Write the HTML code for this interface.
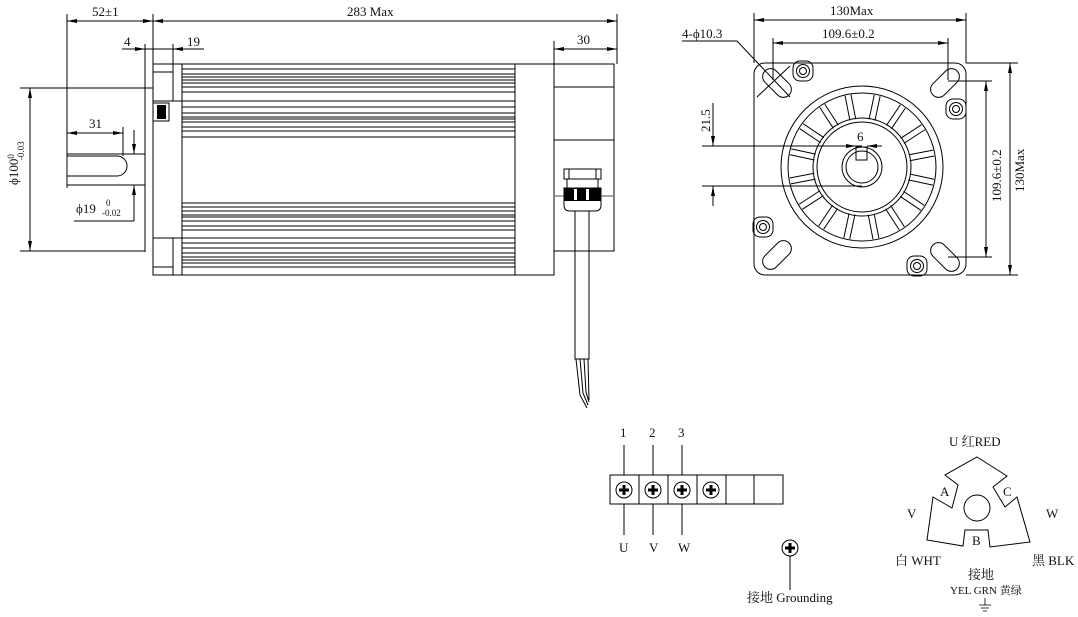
<!DOCTYPE html>
<html><head><meta charset="utf-8"><style>
html,body{margin:0;padding:0;background:#fff}
svg{display:block}
text{font-family:"Liberation Serif","Noto Serif CJK SC",serif;font-size:13px;fill:#111}
.l{stroke:#000;stroke-width:1;fill:none}
.t{stroke:#000;stroke-width:0.8;fill:none}
</style></head><body>
<svg width="1078" height="617" viewBox="0 0 1078 617" xmlns="http://www.w3.org/2000/svg">
<defs>
<marker id="a" viewBox="0 0 10 6" refX="10" refY="3" markerWidth="10" markerHeight="6" orient="auto-start-reverse"><path d="M0,1 L10,3 L0,5z" fill="#000"/></marker>
<g id="sp"><line x1="859" y1="119" x2="859" y2="94" class="l"/><line x1="865" y1="119" x2="865" y2="94" class="l"/></g>
<g id="boss"><rect x="-10" y="-10" width="20" height="20" rx="7" class="l"/><circle r="6.5" class="l"/><circle r="3.5" class="l"/></g>
<g id="slot"><rect x="-17" y="-8" width="34" height="16" rx="8" class="l"/></g>
<g id="scr"><circle r="8" class="l" stroke-width="1.5"/><path d="M-5,0H5M0,-5V5" stroke="#000" stroke-width="3"/></g>
</defs>

<!-- SIDE VIEW dims -->
<line x1="67" y1="14" x2="67" y2="188" class="l"/>
<line x1="153" y1="14" x2="153" y2="64" class="l"/>
<line x1="617" y1="14" x2="617" y2="64" class="l"/>
<line x1="67" y1="21" x2="153" y2="21" class="l" marker-start="url(#a)" marker-end="url(#a)"/>
<line x1="153" y1="21" x2="617" y2="21" class="l" marker-start="url(#a)" marker-end="url(#a)"/>
<text x="92" y="16">52±1</text>
<text x="347" y="16">283 Max</text>
<line x1="122" y1="49" x2="204" y2="49" class="l"/>
<line x1="132" y1="49" x2="145" y2="49" class="l" marker-end="url(#a)"/>
<line x1="190" y1="49" x2="173" y2="49" class="l" marker-end="url(#a)"/>
<line x1="145" y1="44" x2="145" y2="252" class="l"/>
<line x1="173" y1="44" x2="173" y2="64" class="l"/>
<text x="124" y="46">4</text><text x="187" y="46">19</text>
<line x1="554" y1="41" x2="554" y2="64" class="l"/>
<line x1="554" y1="49" x2="617" y2="49" class="l" marker-start="url(#a)" marker-end="url(#a)"/>
<text x="577" y="44">30</text>

<!-- body -->
<rect x="153" y="64" width="401" height="211" class="l"/>
<line x1="153" y1="72" x2="173" y2="72" class="l"/>
<line x1="173" y1="64" x2="173" y2="101" class="l"/>
<line x1="173" y1="238" x2="173" y2="275" class="l"/>
<line x1="153" y1="267" x2="173" y2="267" class="l"/>
<line x1="153" y1="101" x2="515" y2="101" class="l"/>
<line x1="153" y1="238" x2="515" y2="238" class="l"/>
<line x1="182" y1="64" x2="182" y2="275" class="l"/>
<line x1="515" y1="64" x2="515" y2="275" class="l"/>
<rect x="153" y="103" width="16" height="18" fill="#fff" class="l"/>
<rect x="157" y="105" width="9" height="14" fill="#000"/>
<g class="l">
<path d="M182,69H515M182,74H515M182,77H515M182,80H515M182,83H515M182,87H515M182,92H515
M182,107H515M182,113H515M182,117H515M182,119H515M182,122H515M182,127H515M182,131H515M182,137H515
M182,203H515M182,207H515M182,211H515M182,215H515M182,217H515M182,221H515M182,226H515M182,230H515
M182,243H515M182,248H515M182,253H515M182,257H515M182,260H515M182,263H515M182,267H515"/>
</g>
<!-- connector box -->
<rect x="554" y="64" width="60" height="187" class="l"/>
<line x1="554" y1="87" x2="614" y2="87" class="l"/>
<line x1="554" y1="140" x2="614" y2="140" class="l"/>
<line x1="554" y1="196" x2="614" y2="196" stroke="#888" stroke-width="1.5"/>
<rect x="564" y="169" width="37" height="10" fill="#fff" class="l"/>
<line x1="569" y1="169" x2="569" y2="179" class="l"/><line x1="596" y1="169" x2="596" y2="179" class="l"/>
<rect x="567" y="179" width="31" height="9" fill="#fff" class="l"/>
<path d="M564,188H601V205Q601,211 595,211H570Q564,211 564,205Z" fill="#fff" class="l"/>
<rect x="564" y="188" width="37" height="13" fill="#000"/>
<rect x="574" y="189" width="3" height="11" fill="#fff"/><rect x="586" y="189" width="3" height="11" fill="#fff"/>
<rect x="575" y="211" width="14" height="148" fill="#fff" class="l"/>
<path d="M576,359L580,395L587,408M580,359L583,393L588,405M584,359L586,392L589,402M588,359L589,400" class="l"/>

<!-- shaft -->
<line x1="67" y1="154" x2="145" y2="154" class="l"/>
<line x1="67" y1="185" x2="145" y2="185" class="l"/>
<path d="M67,156H117A10,10 0 0 1 117,176H67" class="l"/>
<line x1="123" y1="127" x2="123" y2="156" class="l"/>
<line x1="67" y1="133" x2="123" y2="133" class="l" marker-start="url(#a)" marker-end="url(#a)"/>
<text x="89" y="128">31</text>
<line x1="134" y1="130" x2="134" y2="154" class="l" marker-end="url(#a)"/>
<line x1="134" y1="221" x2="134" y2="185" class="l" marker-end="url(#a)"/>
<line x1="74" y1="221" x2="134" y2="221" class="l"/>
<text x="76" y="213">ϕ19</text><text x="106" y="206" style="font-size:9px">0</text><text x="102" y="216" style="font-size:9px">-0.02</text>
<line x1="20" y1="88" x2="153" y2="88" class="l"/>
<line x1="20" y1="251" x2="145" y2="251" class="l"/>
<line x1="30" y1="88" x2="30" y2="251" class="l" marker-start="url(#a)" marker-end="url(#a)"/>
<text transform="translate(18,185) rotate(-90)">ϕ100<tspan style="font-size:9px" dy="-4">0</tspan><tspan style="font-size:9px" dx="-6" dy="10">-0.03</tspan></text>

<!-- FRONT VIEW -->
<rect x="754" y="63" width="212" height="212" rx="11" class="l"/>
<line x1="754" y1="13" x2="754" y2="63" class="l"/>
<line x1="966" y1="13" x2="966" y2="63" class="l"/>
<line x1="754" y1="20" x2="966" y2="20" class="l" marker-start="url(#a)" marker-end="url(#a)"/>
<text x="830" y="15">130Max</text>
<line x1="773" y1="38" x2="773" y2="80" class="l"/>
<line x1="948" y1="38" x2="948" y2="80" class="l"/>
<line x1="773" y1="43" x2="948" y2="43" class="l" marker-start="url(#a)" marker-end="url(#a)"/>
<text x="822" y="38">109.6±0.2</text>
<line x1="966" y1="63" x2="1018" y2="63" class="l"/>
<line x1="966" y1="275" x2="1018" y2="275" class="l"/>
<line x1="1010" y1="63" x2="1010" y2="275" class="l" marker-start="url(#a)" marker-end="url(#a)"/>
<text transform="translate(1024,192) rotate(-90)">130Max</text>
<line x1="948" y1="81" x2="992" y2="81" class="l"/>
<line x1="948" y1="257" x2="992" y2="257" class="l"/>
<line x1="986" y1="81" x2="986" y2="257" class="l" marker-start="url(#a)" marker-end="url(#a)"/>
<text transform="translate(1001,202) rotate(-90)">109.6±0.2</text>
<text x="682" y="38">4-ϕ10.3</text>
<path d="M682,41H737L790,97" class="l"/>
<line x1="757" y1="97" x2="790" y2="66" class="l"/>
<use href="#slot" transform="translate(777,83) rotate(45)"/>
<use href="#slot" transform="translate(945,83) rotate(-45)"/>
<use href="#slot" transform="translate(777,255) rotate(-45)"/>
<use href="#slot" transform="translate(945,257) rotate(45)"/>
<use href="#boss" transform="translate(803,71)"/>
<use href="#boss" transform="translate(956,109)"/>
<use href="#boss" transform="translate(763,227)"/>
<use href="#boss" transform="translate(917,266)"/>
<circle cx="862" cy="167" r="81" class="l"/>
<circle cx="862" cy="167" r="74" class="l"/>
<circle cx="862" cy="167" r="49" class="l"/>
<circle cx="862" cy="167" r="45" class="l"/>
<circle cx="862" cy="167" r="20" class="l"/>
<circle cx="862" cy="167" r="16" class="l"/>
<rect x="856" y="147" width="11" height="13" fill="#fff" class="l"/>
<g transform="translate(-0,0)">
<use href="#sp" transform="rotate(12 862 167)"/><use href="#sp" transform="rotate(34 862 167)"/>
<use href="#sp" transform="rotate(57 862 167)"/><use href="#sp" transform="rotate(79 862 167)"/>
<use href="#sp" transform="rotate(102 862 167)"/><use href="#sp" transform="rotate(124 862 167)"/>
<use href="#sp" transform="rotate(147 862 167)"/><use href="#sp" transform="rotate(169 862 167)"/>
<use href="#sp" transform="rotate(192 862 167)"/><use href="#sp" transform="rotate(214 862 167)"/>
<use href="#sp" transform="rotate(237 862 167)"/><use href="#sp" transform="rotate(259 862 167)"/>
<use href="#sp" transform="rotate(282 862 167)"/><use href="#sp" transform="rotate(304 862 167)"/>
<use href="#sp" transform="rotate(327 862 167)"/><use href="#sp" transform="rotate(349 862 167)"/>
</g>
<line x1="845" y1="146" x2="856" y2="146" class="l" marker-end="url(#a)"/>
<line x1="882" y1="146" x2="867" y2="146" class="l" marker-end="url(#a)"/>
<text x="857" y="141">6</text>
<line x1="702" y1="146" x2="862" y2="146" class="l"/>
<line x1="702" y1="186" x2="862" y2="186" class="l"/>
<line x1="713" y1="103" x2="713" y2="146" class="l" marker-end="url(#a)"/>
<line x1="713" y1="206" x2="713" y2="186" class="l" marker-end="url(#a)"/>
<text transform="translate(710,132) rotate(-90)">21.5</text>

<!-- TERMINAL -->
<rect x="610" y="475" width="173" height="29" class="l"/>
<path d="M639,475V504M668,475V504M697,475V504M726,475V504M754,475V504" class="l"/>
<use href="#scr" transform="translate(624,490)"/><use href="#scr" transform="translate(653,490)"/>
<use href="#scr" transform="translate(682,490)"/><use href="#scr" transform="translate(711,490)"/>
<path d="M624,445V475M653,445V475M682,445V475M624,504V535M653,504V535M682,504V535" class="l"/>
<text x="620" y="437">1</text><text x="649" y="437">2</text><text x="678" y="437">3</text>
<text x="619" y="552">U</text><text x="649" y="552">V</text><text x="678" y="552">W</text>
<use href="#scr" transform="translate(790,548)"/>
<line x1="790" y1="556" x2="790" y2="590" class="l"/>
<text x="747" y="602">接地 Grounding</text>

<!-- motor symbol -->
<path d="M977,457L1007,476L993,487L1005,507L1017,497L1030,542L990,547L988,530L965,530L963,546L927,540L933,497L952,508L958,485L945,475Z" class="l"/>
<circle cx="977" cy="508" r="13" class="l"/>
<text x="949" y="446">U 红RED</text>
<text x="940" y="496">A</text><text x="1003" y="496">C</text><text x="972" y="545">B</text>
<text x="907" y="518">V</text><text x="1046" y="518">W</text>
<text x="895" y="565">白 WHT</text><text x="1032" y="565">黑 BLK</text>
<text x="968" y="579">接地</text>
<text x="950" y="594" style="font-size:11px">YEL GRN 黄绿</text>
<path d="M985,598V605M979,605H991M981,608H989M983,611H987" class="t"/>
</svg>
</body></html>
